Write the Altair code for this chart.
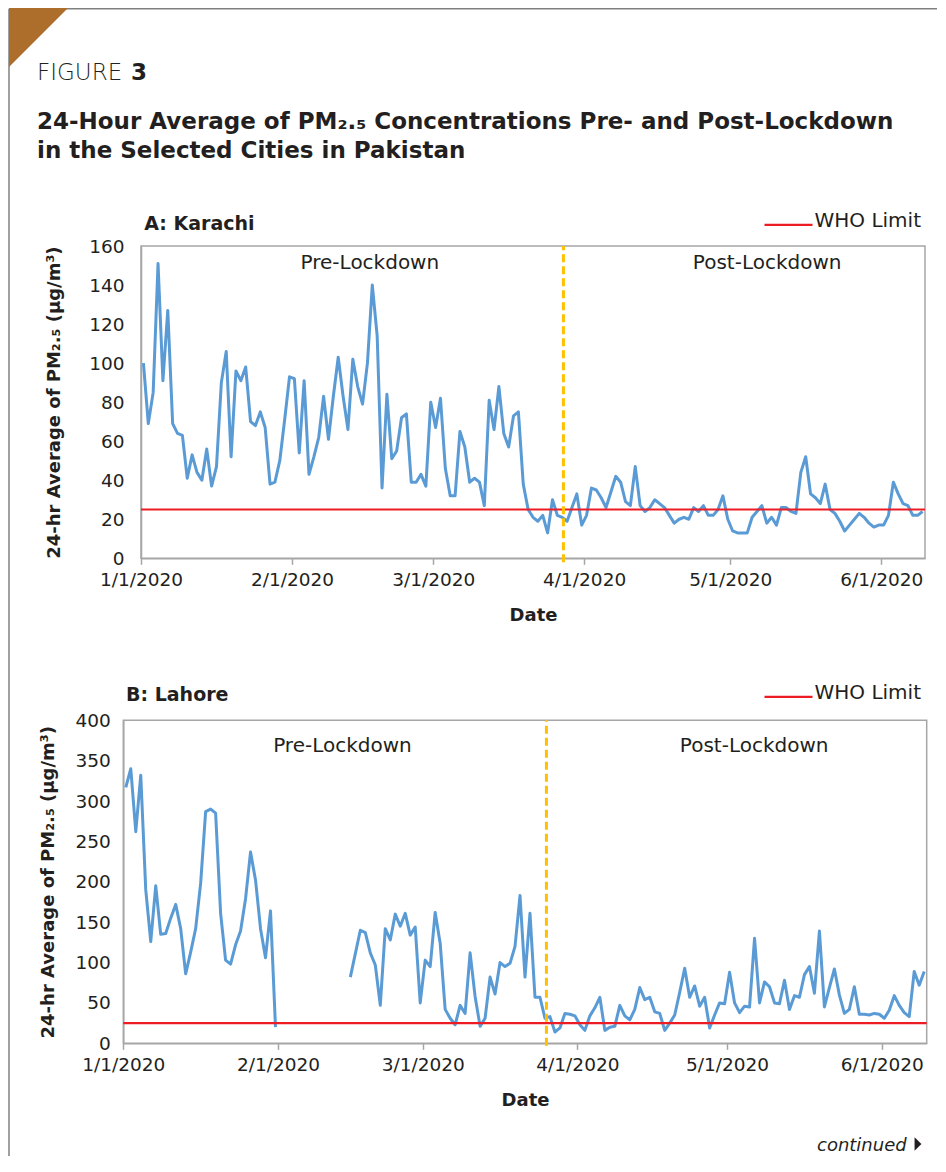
import altair as alt
import pandas as pd

# ---------------- data ----------------
karachi_pm25 = [
    100, 69, 85, 151, 91, 127, 69, 64, 63, 41,
    53, 44, 40, 56, 37, 47, 90, 106, 52, 96,
    91, 98, 70, 68, 75, 67, 38, 39, 50, 71,
    93, 92, 54, 91, 43, 52, 62, 83, 61, 83,
    103, 83, 66, 102, 88, 79, 100, 140, 114, 36,
    84, 51, 55, 72, 74, 39, 39, 43, 37, 80,
    67, 82, 46, 32, 32, 65, 57, 39, 41, 39,
    27, 81, 66, 88, 64, 57, 73, 75, 38, 25,
    21, 19, 22, 13, 30, 22, 21, 19, 26, 33,
    17, 22, 36, 35, 31, 26, 34, 42, 39, 29,
    27, 47, 27, 24, 26, 30, 28, 26, 22, 18,
    20, 21, 20, 26, 24, 27, 22, 22, 25, 32,
    20, 14, 13, 13, 13, 21, 24, 27, 18, 21,
    17, 26, 26, 24, 23, 44, 52, 33, 31, 28,
    38, 25, 23, 19, 14, 17, 20, 23, 21, 18,
    16, 17, 17, 22, 39, 33, 28, 27, 22, 22, 24,
]

lahore_pm25 = [
    317, 340, 262, 332, 190, 126, 195, 135, 136, 155,
    172, 142, 86, 113, 142, 198, 287, 290, 285, 161,
    103, 98, 122, 139, 179, 237, 202, 142, 106, 164,
    20,
    None, None, None, None, None, None, None, None, None, None, None, None, None, None,
    82, 111, 140, 137, 112,
    97, 47, 142, 128, 160, 145, 161, 134, 144, 50,
    103, 95, 162, 124, 42, 31, 23, 47, 37, 112,
    58, 21, 31, 82, 61, 100, 95, 99, 120, 183,
    82, 161, 57, 57, 31, 33, 14, 19, 37, 36,
    34, 23, 16, 34, 44, 57, 16, 20, 21, 47,
    34, 29, 42, 69, 54, 57, 39, 37, 16, 25,
    35, 63, 93, 57, 71, 46, 57, 19, 35, 50,
    49, 88, 50, 38, 46, 45, 130, 50, 76, 70,
    50, 49, 78, 42, 59, 57, 85, 95, 62, 139,
    45, 69, 92, 60, 37, 42, 70, 36, 36, 35,
    37, 36, 31, 41, 59, 47, 38, 33, 89, 72, 89,
]

who_limit = 25
who_label = "WHO Limit"
x_start = "2020-01-01T00:00:00"
x_end = "2020-06-10T00:00:00"
karachi_lockdown = "2020-03-27T18:00:00"
lahore_lockdown = "2020-03-25T19:00:00"
phase_labels = ["Pre-Lockdown", "Post-Lockdown"]
karachi_label_dates = ["2020-02-17T00:00:00", "2020-05-08T14:00:00"]
karachi_label_y = [148, 148]
lahore_label_dates = ["2020-02-13T22:00:00", "2020-05-06T10:00:00"]
lahore_label_y = [361, 361]
karachi_y_max = 160
lahore_y_max = 400
karachi_lock_span = [-2, 160]
lahore_lock_span = [-3, 400]
karachi_y_ticks = [0, 20, 40, 60, 80, 100, 120, 140, 160]
lahore_y_ticks = [0, 50, 100, 150, 200, 250, 300, 350, 400]
tick_months = [1, 2, 3, 4, 5, 6]

header_word = "FIGURE"
header_num = "3"
title_lines = [
    "24-Hour Average of PM\u2082.\u2085 Concentrations Pre- and Post-Lockdown",
    "in the Selected Cities in Pakistan",
]
y_title = "24-hr Average of PM\u2082.\u2085 (\u00b5g/m\u00b3)"
cont_label = "continued"

# ---------------- styles / layout ----------------
BLUE = "#5b9bd5"
RED = "#ed1c24"
GOLD = "#ffc000"
GRAY = "#a6a6a6"
TXT = "#231f20"
BROWN = "#ad6e2b"
FRAME = "#808080"
FONT = "DejaVu Sans"
W, H = 929, 1148

dates = pd.date_range("2020-01-01 12:00", periods=len(karachi_pm25), freq="D")

kdf = pd.DataFrame({"date": dates, "pm25": karachi_pm25})
kdf["seg"] = 0

ldf = pd.DataFrame({"date": dates, "pm25": lahore_pm25})
ldf["seg"] = ldf["pm25"].isna().cumsum()
ldf = ldf.dropna()


def one(**kw):
    return pd.DataFrame({k: [v] for k, v in kw.items()})


def panel(df, city, lockdown, lock_span, ymax, yticks, xr, yr, label_dates, label_y,
          lab_pad, title_pad, city_xy, legend_xy, extra=()):
    x_scale = alt.Scale(domain=[alt.DateTime(year=2020, month=1, date=1),
                                alt.DateTime(year=2020, month=6, date=10)], range=list(xr))
    y_scale = alt.Scale(domain=[0, ymax], range=list(yr))
    x_axis = alt.Axis(title="Date", orient="bottom", offset=yr[0] - H,
                      values=[alt.DateTime(year=2020, month=m, date=1) for m in tick_months],
                      format="%-m/%-d/%Y", tickSize=6, labelPadding=6, titlePadding=18,
                      labelFlush=False, labelOverlap=False)
    y_axis = alt.Axis(title=y_title, orient="left", offset=-xr[0], values=yticks, ticks=False,
                      labelPadding=lab_pad, titlePadding=title_pad, labelFlush=False,
                      labelOverlap=False)
    X = alt.X("date:T", scale=x_scale, axis=x_axis)
    Y = alt.Y("pm25:Q", scale=y_scale, axis=y_axis)

    box = alt.Chart(one(date=x_start, date_end=x_end, pm25=0, pm25_top=ymax)).mark_rect(
        fill="transparent", stroke=GRAY, strokeWidth=1.5).encode(
        x=X, x2="date_end:T", y=Y, y2="pm25_top:Q")

    line = alt.Chart(df).mark_line(color=BLUE, strokeWidth=3, strokeJoin="round").encode(
        x=X, y=Y, detail="seg:N")

    who = alt.Chart(one(date=x_start, date_end=x_end, pm25=who_limit, label=who_label)).mark_rule(
        strokeWidth=2.2).encode(
        x=X, x2="date_end:T", y=Y,
        color=alt.Color("label:N", scale=alt.Scale(domain=[who_label], range=[RED]),
                        legend=alt.Legend(title=None, orient="none", legendX=legend_xy[0],
                                          legendY=legend_xy[1], symbolType="M-8,1.3L8,1.3",
                                          symbolSize=36, symbolStrokeWidth=2.2,
                                          labelFont=FONT, labelFontSize=20, labelColor=TXT,
                                          labelOffset=16, padding=0)))

    lock = alt.Chart(one(date=lockdown, pm25=lock_span[0], pm25_top=lock_span[1])).mark_rule(
        color=GOLD, strokeWidth=3, strokeDash=[8, 4]).encode(x=X, y=Y, y2="pm25_top:Q")

    labels = alt.Chart(pd.DataFrame({"date": label_dates, "pm25": label_y, "label": phase_labels})).mark_text(
        font=FONT, fontSize=20, color=TXT, align="center", baseline="alphabetic").encode(
        x=X, y=Y, text="label:N")

    city_txt = alt.Chart(one(t=city)).mark_text(
        font=FONT, fontSize=19, fontWeight="bold", color=TXT, align="left", baseline="alphabetic").encode(
        x=alt.value(city_xy[0]), y=alt.value(city_xy[1]), text="t:N")

    return alt.layer(box, line, who, lock, labels, city_txt, *extra)


# ---------------- header / frame ----------------
def htext(t, x, y, size, weight, style="normal", align="left"):
    return alt.Chart(one(t=t)).mark_text(
        font=FONT, fontSize=size, fontWeight=weight, fontStyle=style, color=TXT,
        align=align, baseline="alphabetic").encode(x=alt.value(x), y=alt.value(y), text="t:N")


corner = alt.Chart(one(k=0)).mark_point(shape="M-1,-1L1,-1L-1,1Z", filled=True, size=3481,
                                        color=BROWN, opacity=1, strokeWidth=0).encode(
    x=alt.value(30.5), y=alt.value(29.5))
top_rule = alt.Chart(one(k=0)).mark_rule(color=FRAME, strokeWidth=1.5).encode(
    x=alt.value(1), x2=alt.value(W), y=alt.value(0.75))
left_rule = alt.Chart(one(k=0)).mark_rule(color=FRAME, strokeWidth=1.5).encode(
    x=alt.value(1), y=alt.value(0.75), y2=alt.value(H))

cont_tri = alt.Chart(one(k=0)).mark_point(shape="M-0.5,-1L0.5,0L-0.5,1Z", filled=True, size=188,
                                          color=TXT, opacity=1, strokeWidth=0).encode(
    x=alt.value(910), y=alt.value(1136))

karachi = panel(kdf, "A: Karachi", karachi_lockdown, karachi_lock_span, karachi_y_max, karachi_y_ticks,
                (133, 917), (550.3, 238), karachi_label_dates, karachi_label_y,
                17, 25, (136.3, 222), (770.5, 203))

lahore = panel(ldf, "B: Lahore", lahore_lockdown, lahore_lock_span, lahore_y_max, lahore_y_ticks,
               (115.3, 918.7), (1035.3, 712.3), lahore_label_dates, lahore_label_y,
               13, 17, (118, 692.7), (770.5, 675),
               extra=(htext(cont_label, 898.7, 1142.7, 18, "normal", "italic", "right"), cont_tri))

chart = alt.layer(
    top_rule, left_rule, corner,
    htext(header_word, 29, 72, 23, 300),
    htext(header_num, 123, 72, 23, "bold"),
    htext(title_lines[0], 29, 121.3, 23, "bold"),
    htext(title_lines[1], 29, 150.3, 23, "bold"),
    karachi, lahore,
).resolve_scale(x="independent", y="independent", color="independent").resolve_axis(
    x="independent", y="independent").resolve_legend(color="independent").properties(
    width=W, height=H, padding=0, background="white",
    view=alt.ViewBackground(stroke="transparent")).configure_axis(
    domainColor=GRAY, domainWidth=1.5, tickColor=GRAY, tickWidth=1.5, grid=False,
    labelFont=FONT, labelFontSize=18.5, labelColor=TXT,
    titleFont=FONT, titleFontSize=18, titleFontWeight="bold", titleColor=TXT)

chart.save("out.html", embed_options={"renderer": "svg", "actions": False})
